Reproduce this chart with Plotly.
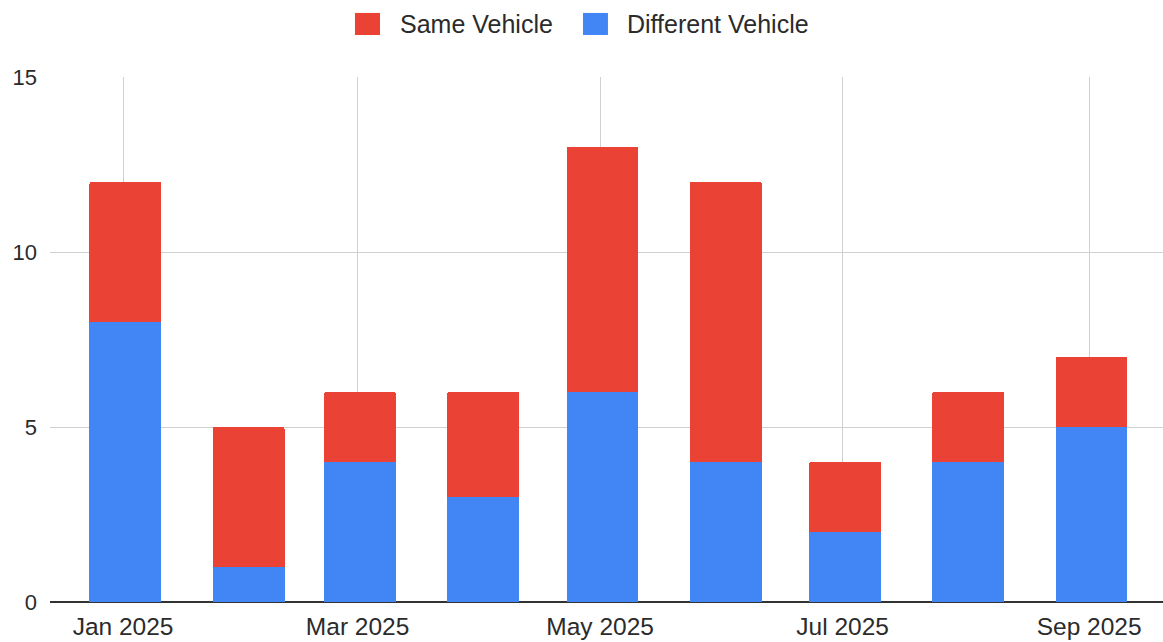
import plotly.graph_objects as go

months = ["2025-01-01", "2025-02-01", "2025-03-01", "2025-04-01", "2025-05-01",
          "2025-06-01", "2025-07-01", "2025-08-01", "2025-09-01"]
different_vehicle = [8, 1, 4, 3, 6, 4, 2, 4, 5]
same_vehicle = [4, 4, 2, 3, 7, 8, 2, 2, 2]
series_names = ["Same Vehicle", "Different Vehicle"]
series_colors = ["#EA4335", "#4285F4"]

DAY_MS = 86400000
bar_width = 18.1 * DAY_MS
font_family = "Liberation Sans, Arial, Helvetica, sans-serif"
text_color = "#2b2b2b"

fig = go.Figure()
fig.add_trace(go.Bar(
    x=months, y=different_vehicle, name=series_names[1],
    marker=dict(color=series_colors[1], line=dict(width=0)),
    width=[bar_width] * len(months), offset=[-bar_width / 2 + 0.6 * DAY_MS] * len(months),
    showlegend=False,
))
fig.add_trace(go.Bar(
    x=months, y=same_vehicle, name=series_names[0],
    marker=dict(color=series_colors[0], line=dict(width=0)),
    width=[bar_width] * len(months), offset=[-bar_width / 2 + 0.6 * DAY_MS] * len(months),
    showlegend=False,
))

# Legend drawn as swatches + text (paper coordinates) to match the large square keys
legend_items = [
    dict(sx0=0.2740, sx1=0.2965, tx=0.3127),
    dict(sx0=0.4789, sx1=0.5013, tx=0.5166),
]
shapes = []
annotations = []
for name, color, item in zip(series_names, series_colors, legend_items):
    shapes.append(dict(
        type="rect", xref="paper", yref="paper",
        x0=item["sx0"], x1=item["sx1"], y0=1.080, y1=1.122,
        fillcolor=color, line=dict(width=0),
    ))
    annotations.append(dict(
        text=name, xref="paper", yref="paper", x=item["tx"], y=1.101,
        xanchor="left", yanchor="middle", showarrow=False,
        font=dict(size=25, color=text_color, family=font_family),
    ))

fig.update_layout(
    width=1163, height=642,
    barmode="stack",
    barcornerradius=2,
    plot_bgcolor="white", paper_bgcolor="white",
    margin=dict(l=50, r=0, t=77, b=40, autoexpand=False),
    font=dict(family=font_family, size=23, color=text_color),
    showlegend=False,
    shapes=shapes,
    annotations=annotations,
    xaxis=dict(
        type="date",
        range=["2024-12-13 15:00", "2025-09-19 14:00"],
        dtick="M2", tick0="2025-01-01", tickformat="%b %Y",
        showgrid=True, gridcolor="#d0d0d0", gridwidth=1,
        ticks="", showline=False, zeroline=False,
        automargin=False,
        ticklabelstandoff=7,
        tickfont=dict(size=24.5, color=text_color),
    ),
    yaxis=dict(
        range=[0, 15], dtick=5, tick0=0,
        showgrid=True, gridcolor="#d0d0d0", gridwidth=1,
        zeroline=True, zerolinecolor="#333333", zerolinewidth=1.5,
        ticks="", showline=False, automargin=False,
        ticklabelstandoff=12,
        tickfont=dict(size=22, color=text_color),
    ),
)

fig.write_html(
    "out.html",
    config={"displayModeBar": False},
    post_script="document.body.style.margin='0';document.body.style.overflow='hidden';",
)
